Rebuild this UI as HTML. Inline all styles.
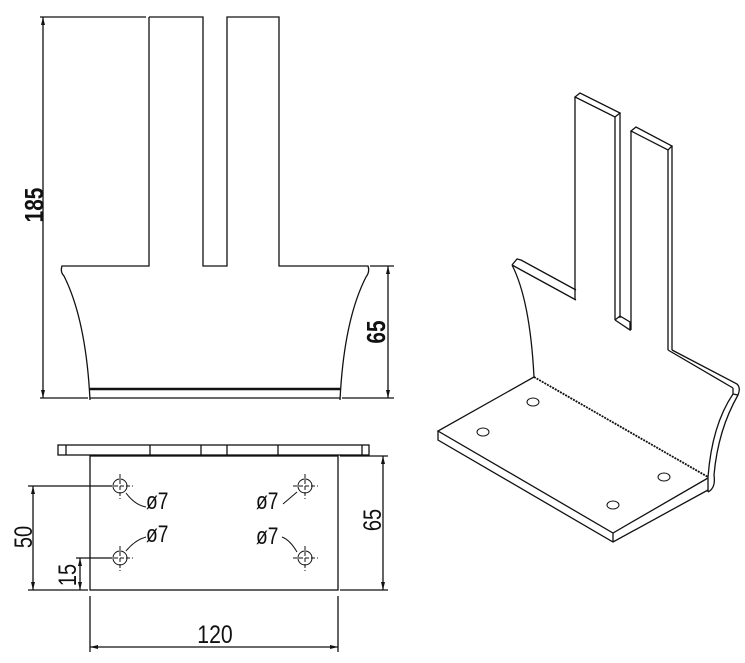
<!DOCTYPE html>
<html><head><meta charset="utf-8"><style>
html,body{margin:0;padding:0;background:#fff;}
svg{display:block;}
text{font-family:"Liberation Sans",sans-serif;fill:#111;}
</style></head><body>
<svg width="745" height="663" viewBox="0 0 745 663" xmlns="http://www.w3.org/2000/svg">
<g fill="none" stroke="#111" stroke-width="1.3">
<!-- front view -->
<path d="M149,17 V266 H62 Q60,272 64,276 Q86,320 90,400"/>
<path d="M149,17 H203 V266 H227 V17 H279 V266 H368 Q370,272 366,277 Q344,320 340,400"/>
<line x1="90" y1="389" x2="340" y2="389" stroke-width="2.5"/>
<line x1="90" y1="398" x2="340" y2="398"/>
<line x1="40" y1="17" x2="146" y2="17"/>
<line x1="40" y1="398" x2="88" y2="398"/>
<line x1="43" y1="17" x2="43" y2="398"/>
<line x1="370" y1="266" x2="394" y2="266"/>
<line x1="342" y1="398" x2="394" y2="398"/>
<line x1="388" y1="266" x2="388" y2="398"/>
<!-- bottom view -->
<rect x="58" y="445" width="311" height="10"/>
<line x1="66" y1="445" x2="66" y2="455"/>
<line x1="150" y1="445" x2="150" y2="455"/>
<line x1="201" y1="445" x2="201" y2="455"/>
<line x1="227" y1="445" x2="227" y2="455"/>
<line x1="278" y1="445" x2="278" y2="455"/>
<line x1="362" y1="445" x2="362" y2="455"/>
<rect x="90" y="456" width="248" height="134"/>
<g stroke-width="1">
<circle cx="120" cy="486" r="7"/><path d="M108,486H133M120,474V499" stroke-dasharray="4,2"/>
<circle cx="120" cy="558" r="7"/><path d="M108,558H133M120,546V571" stroke-dasharray="4,2"/>
<circle cx="305" cy="486" r="7"/><path d="M293,486H318M305,474V499" stroke-dasharray="4,2"/>
<circle cx="305" cy="558" r="7"/><path d="M293,558H318M305,546V571" stroke-dasharray="4,2"/>
<path d="M126,493 Q135,505 146,507"/>
<path d="M126,551 Q135,540 146,537"/>
<path d="M297,492 L283,504"/>
<path d="M297,552 Q290,540 282,537"/>
</g>
<line x1="28" y1="486" x2="112" y2="486"/>
<line x1="28" y1="590" x2="88" y2="590"/>
<line x1="33" y1="486" x2="33" y2="590"/>
<line x1="76" y1="558" x2="112" y2="558"/>
<line x1="80" y1="558" x2="80" y2="590"/>
<line x1="340" y1="456" x2="388" y2="456"/>
<line x1="340" y1="590" x2="388" y2="590"/>
<line x1="383" y1="456" x2="383" y2="590"/>
<line x1="90" y1="596" x2="90" y2="652"/>
<line x1="338" y1="596" x2="338" y2="652"/>
<line x1="90" y1="647" x2="338" y2="647"/>
<!-- isometric: left tab -->
<path d="M575,97 L580,93 L620,113 L615,117 Z"/>
<path d="M575,97 V300 M615,117 V320 M620,113 V318"/>
<path d="M615,320 L620,316 L630,322 V330 L615,320"/>
<!-- right tab -->
<path d="M631,131 L636,127 L672,146 L668,150 Z"/>
<path d="M631,131 V330 M668,150 V350 M672,146 V350"/>
<!-- left shoulder -->
<path d="M512,265 L517,259 L521,260 L576,290 M512,265 L576,300 M512,265 Q530,300 534,377"/>
<!-- right shoulder -->
<path d="M668,350 L733,388 M672,350 L737,384 Q741,388 738,395 L733,394 L733,388"/>
<path d="M733,394 Q712,425 708,477 L708,492 M738,395 Q718,430 714,475 Q716,488 708,492"/>
<path d="M534,377 L708,477" stroke-dasharray="2,1" stroke-width="1.8"/>
<path d="M534,377 L438,431 L613,533 L708,478 M438,431 V440 L613,542 L708,490 M613,533 V542"/>
<g stroke-width="1">
<ellipse cx="533" cy="402" rx="6" ry="4"/>
<ellipse cx="483" cy="432" rx="6" ry="4"/>
<ellipse cx="664" cy="477" rx="6" ry="4"/>
<ellipse cx="613" cy="505" rx="6" ry="4"/>
</g>
</g>
<g fill="#111">
<path d="M43,17 l-2,8 h4z M43,398 l-2,-8 h4z M388,266 l-2,8 h4z M388,398 l-2,-8 h4z M33,486 l-2,8 h4z M33,590 l-2,-8 h4z M80,558 l-2,8 h4z M80,590 l-2,-8 h4z M383,456 l-2,8 h4z M383,590 l-2,-8 h4z M90,647 l8,-2 v4z M338,647 l-8,-2 v4z"/>
</g>
<text transform="translate(43,205) rotate(-90) scale(0.8,1)" font-size="26" font-weight="bold" text-anchor="middle">185</text>
<text transform="translate(385,332) rotate(-90) scale(0.8,1)" font-size="26" font-weight="bold" text-anchor="middle">65</text>
<text transform="translate(32,537) rotate(-90) scale(0.8,1)" font-size="25" text-anchor="middle">50</text>
<text transform="translate(76,575) rotate(-90) scale(0.8,1)" font-size="25" text-anchor="middle">15</text>
<text transform="translate(381,520) rotate(-90) scale(0.8,1)" font-size="25" text-anchor="middle">65</text>
<text transform="translate(215,643) scale(0.85,1)" font-size="25" text-anchor="middle">120</text>
<text transform="translate(146,509) scale(0.8,1)" font-size="24">ø7</text>
<text transform="translate(146,542) scale(0.8,1)" font-size="24">ø7</text>
<text transform="translate(256,509) scale(0.8,1)" font-size="24">ø7</text>
<text transform="translate(256,544) scale(0.8,1)" font-size="24">ø7</text>
</svg>
</body></html>
